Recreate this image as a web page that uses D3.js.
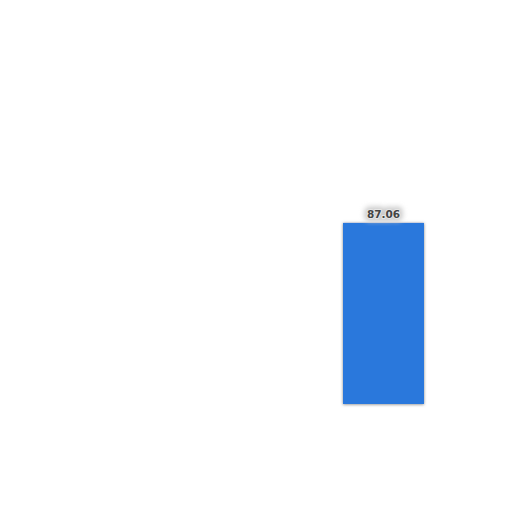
<!DOCTYPE html>
<html>
<head>
<meta charset="utf-8">
<script src="https://cdn.jsdelivr.net/npm/d3@7"></script>
<style>
  body { margin: 0; background: #fff; }
</style>
</head>
<body>
<div id="vis"></div>
<script>
const categories = ["A"];
const values = [87.06];
const labels = ["87.06"];

const width = 512;
const height = 512;

const svg = d3.select("#vis")
        .append("svg")
        .attr("width", width)
        .attr("height", height);

const defs = svg.append("defs");
const shadow = defs.append("filter")
        .attr("id", "shadow")
        .attr("x", "-20%").attr("y", "-20%")
        .attr("width", "140%").attr("height", "140%");
shadow.append("feDropShadow")
        .attr("dx", 0).attr("dy", 0.5)
        .attr("stdDeviation", 1.5)
        .attr("flood-color", "#666")
        .attr("flood-opacity", 0.8);

const blur = defs.append("filter")
        .attr("id", "halo")
        .attr("x", "-50%").attr("y", "-50%")
        .attr("width", "200%").attr("height", "200%");
blur.append("feGaussianBlur").attr("stdDeviation", 2.5);

const xScale = d3.scaleBand()
        .domain(categories)
        .range([343, 424])
        .padding(0);

const yScale = d3.scaleLinear()
        .domain([0, 100])
        .range([404, 196]);

svg.selectAll("rect.bar")
        .data(values)
        .join("rect")
        .attr("class", "bar")
        .attr("x", (d, i) => xScale(categories[i]))
        .attr("y", d => yScale(d))
        .attr("width", xScale.bandwidth())
        .attr("height", d => yScale(0) - yScale(d))
        .attr("fill", "#2a78dc")
        .attr("filter", "url(#shadow)");

// blurred halo behind the label
svg.selectAll("text.halo")
        .data(values)
        .join("text")
        .attr("class", "halo")
        .attr("x", (d, i) => xScale(categories[i]) + xScale.bandwidth() / 2)
        .attr("y", d => yScale(d) - 5)
        .attr("text-anchor", "middle")
        .attr("font-family", "DejaVu Sans, sans-serif")
        .attr("font-size", 10.5)
        .attr("font-weight", "bold")
        .attr("fill", "#ccc")
        .attr("stroke", "#ccc")
        .attr("stroke-width", 7)
        .attr("stroke-linejoin", "round")
        .attr("filter", "url(#halo)")
        .text((d, i) => labels[i]);

svg.selectAll("text.lbl")
        .data(values)
        .join("text")
        .attr("class", "lbl")
        .attr("x", (d, i) => xScale(categories[i]) + xScale.bandwidth() / 2)
        .attr("y", d => yScale(d) - 5)
        .attr("text-anchor", "middle")
        .attr("font-family", "DejaVu Sans, sans-serif")
        .attr("font-size", 10.5)
        .attr("font-weight", "bold")
        .attr("fill", "#444")
        .attr("stroke", "#e6e6e6")
        .attr("stroke-width", 2)
        .attr("stroke-linejoin", "round")
        .attr("paint-order", "stroke")
        .text((d, i) => labels[i]);
</script>
</body>
</html>
